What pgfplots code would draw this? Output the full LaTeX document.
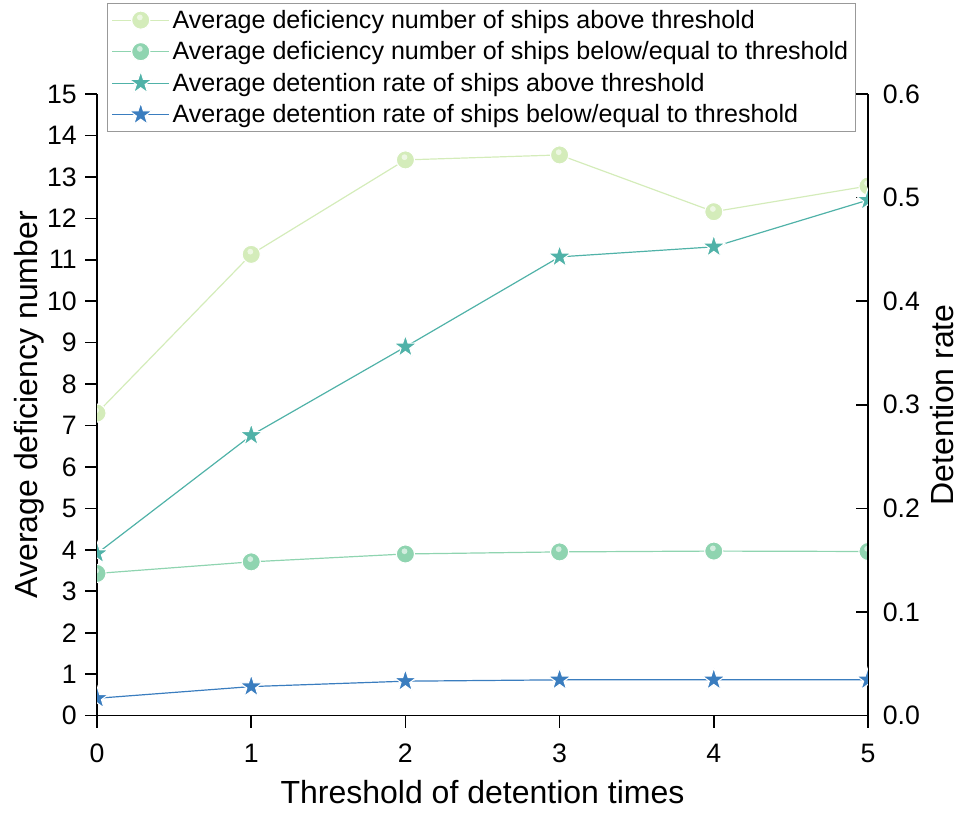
\documentclass[border=0pt]{standalone}
\usepackage{fontspec}
\setmainfont{Liberation Sans}
\usepackage{pgfplots}
\pgfplotsset{compat=1.18}
\definecolor{cA}{RGB}{212,236,186}
\definecolor{cB}{RGB}{143,212,176}
\definecolor{cC}{RGB}{80,178,168}
\definecolor{cD}{RGB}{58,125,191}
\pgfdeclareplotmark{sph}{%
  \pgfpathcircle{\pgfpointorigin}{\pgfplotmarksize}%
  \pgfusepathqfillstroke
  \begin{pgfscope}%
    \pgfsetfillcolor{white}\pgfsetfillopacity{0.6}%
    \pgfpathcircle{\pgfpoint{-0.1\pgfplotmarksize}{0.3\pgfplotmarksize}}{0.32\pgfplotmarksize}%
    \pgfusepathqfill
  \end{pgfscope}%
}
\pgfdeclareplotmark{fstar}{%
  \pgfpathmoveto{\pgfpointpolar{90}{\pgfplotmarksize}}%
  \pgfpathlineto{\pgfpointpolar{126}{0.382\pgfplotmarksize}}%
  \pgfpathlineto{\pgfpointpolar{162}{\pgfplotmarksize}}%
  \pgfpathlineto{\pgfpointpolar{198}{0.382\pgfplotmarksize}}%
  \pgfpathlineto{\pgfpointpolar{234}{\pgfplotmarksize}}%
  \pgfpathlineto{\pgfpointpolar{270}{0.382\pgfplotmarksize}}%
  \pgfpathlineto{\pgfpointpolar{306}{\pgfplotmarksize}}%
  \pgfpathlineto{\pgfpointpolar{342}{0.382\pgfplotmarksize}}%
  \pgfpathlineto{\pgfpointpolar{18}{\pgfplotmarksize}}%
  \pgfpathlineto{\pgfpointpolar{54}{0.382\pgfplotmarksize}}%
  \pgfpathclose
  \pgfusepathqfillstroke
}
\pgfplotsset{
  common/.style={
    scale only axis, width=578pt, height=466pt,
    xmin=0, xmax=5,
    axis line style={line width=1.2pt,-},
    tick style={line width=1.2pt, black},
    major tick length=9pt,
    ticklabel style={font=\fontsize{20}{24}\selectfont, inner sep=0pt},
    label style={font=\fontsize{24}{28}\selectfont, inner sep=0pt},
    /pgf/number format/assume math mode=true,
    clip marker paths=true,
  },
  sA/.style={cA, line width=0.9pt, mark=sph, mark size=6.8pt, mark options={fill=cA, draw=white, line width=0.8pt}},
  sB/.style={cB, line width=0.9pt, mark=sph, mark size=6.8pt, mark options={fill=cB, draw=white, line width=0.8pt}},
  sC/.style={cC, line width=0.9pt, mark=fstar, mark size=9pt, mark options={fill=cC, draw=white, line width=0.8pt}},
  sD/.style={cD, line width=0.9pt, mark=fstar, mark size=9pt, mark options={fill=cD, draw=white, line width=0.8pt}},
}
\begin{document}
\begin{tikzpicture}
\begin{axis}[
  common, name=ax,
  ymin=0, ymax=15,
  axis x line*=bottom, axis y line*=left,
  xtick={0,1,2,3,4,5}, ytick={0,1,...,15},
  tick align=outside,
  xticklabel style={yshift=-12pt},
  yticklabel style={xshift=-6pt},
  xlabel={Threshold of detention times},
  ylabel={Average deficiency number},
  xlabel style={at={(axis description cs:0.5,0)}, anchor=north, yshift=-48pt},
  ylabel style={at={(axis description cs:-0.0687,0.5)}, anchor=south},
]
\addplot[sA] coordinates {(0,7.30)(1,11.13)(2,13.41)(3,13.53)(4,12.16)(5,12.78)};
\addplot[sB] coordinates {(0,3.43)(1,3.71)(2,3.90)(3,3.95)(4,3.97)(5,3.96)};
\end{axis}
\begin{axis}[
  common,
  ymin=0, ymax=0.6,
  axis y line*=right, axis x line=none,
  ytick={0,0.1,0.2,0.3,0.4,0.5,0.6},
  yticklabel style={xshift=11pt, /pgf/number format/fixed, /pgf/number format/fixed zerofill, /pgf/number format/precision=1},
  tick align=inside,
  ylabel={Detention rate},
  ylabel style={at={(axis description cs:1.081,0.5)}, anchor=north},
  legend style={at={(rel axis cs:0.013,1.1465)}, anchor=north west, draw=gray!80, line width=0.6pt,
    font=\fontsize{18.8}{23}\selectfont, row sep=4.5pt, inner sep=3pt},
  legend cell align=left,
  legend image code/.code={\draw[mark repeat=2,mark phase=2] plot coordinates {(0pt,0pt) (21.5pt,0pt) (43pt,0pt)};},
]
\addlegendimage{sA}
\addlegendentry{Average deficiency number of ships above threshold}
\addlegendimage{sB}
\addlegendentry{Average deficiency number of ships below/equal to threshold}
\addplot[sC] coordinates {(0,0.1565)(1,0.2705)(2,0.3559)(3,0.4428)(4,0.4525)(5,0.4976)};
\addlegendentry{Average detention rate of ships above threshold}
\addplot[sD] coordinates {(0,0.0167)(1,0.028)(2,0.0332)(3,0.0345)(4,0.0345)(5,0.0345)};
\addlegendentry{Average detention rate of ships below/equal to threshold}
\end{axis}
\path ([shift={(-72.75pt,-72.75pt)}]ax.south west) rectangle ([shift={(69pt,70.5pt)}]ax.north east);
\end{tikzpicture}
\end{document}
